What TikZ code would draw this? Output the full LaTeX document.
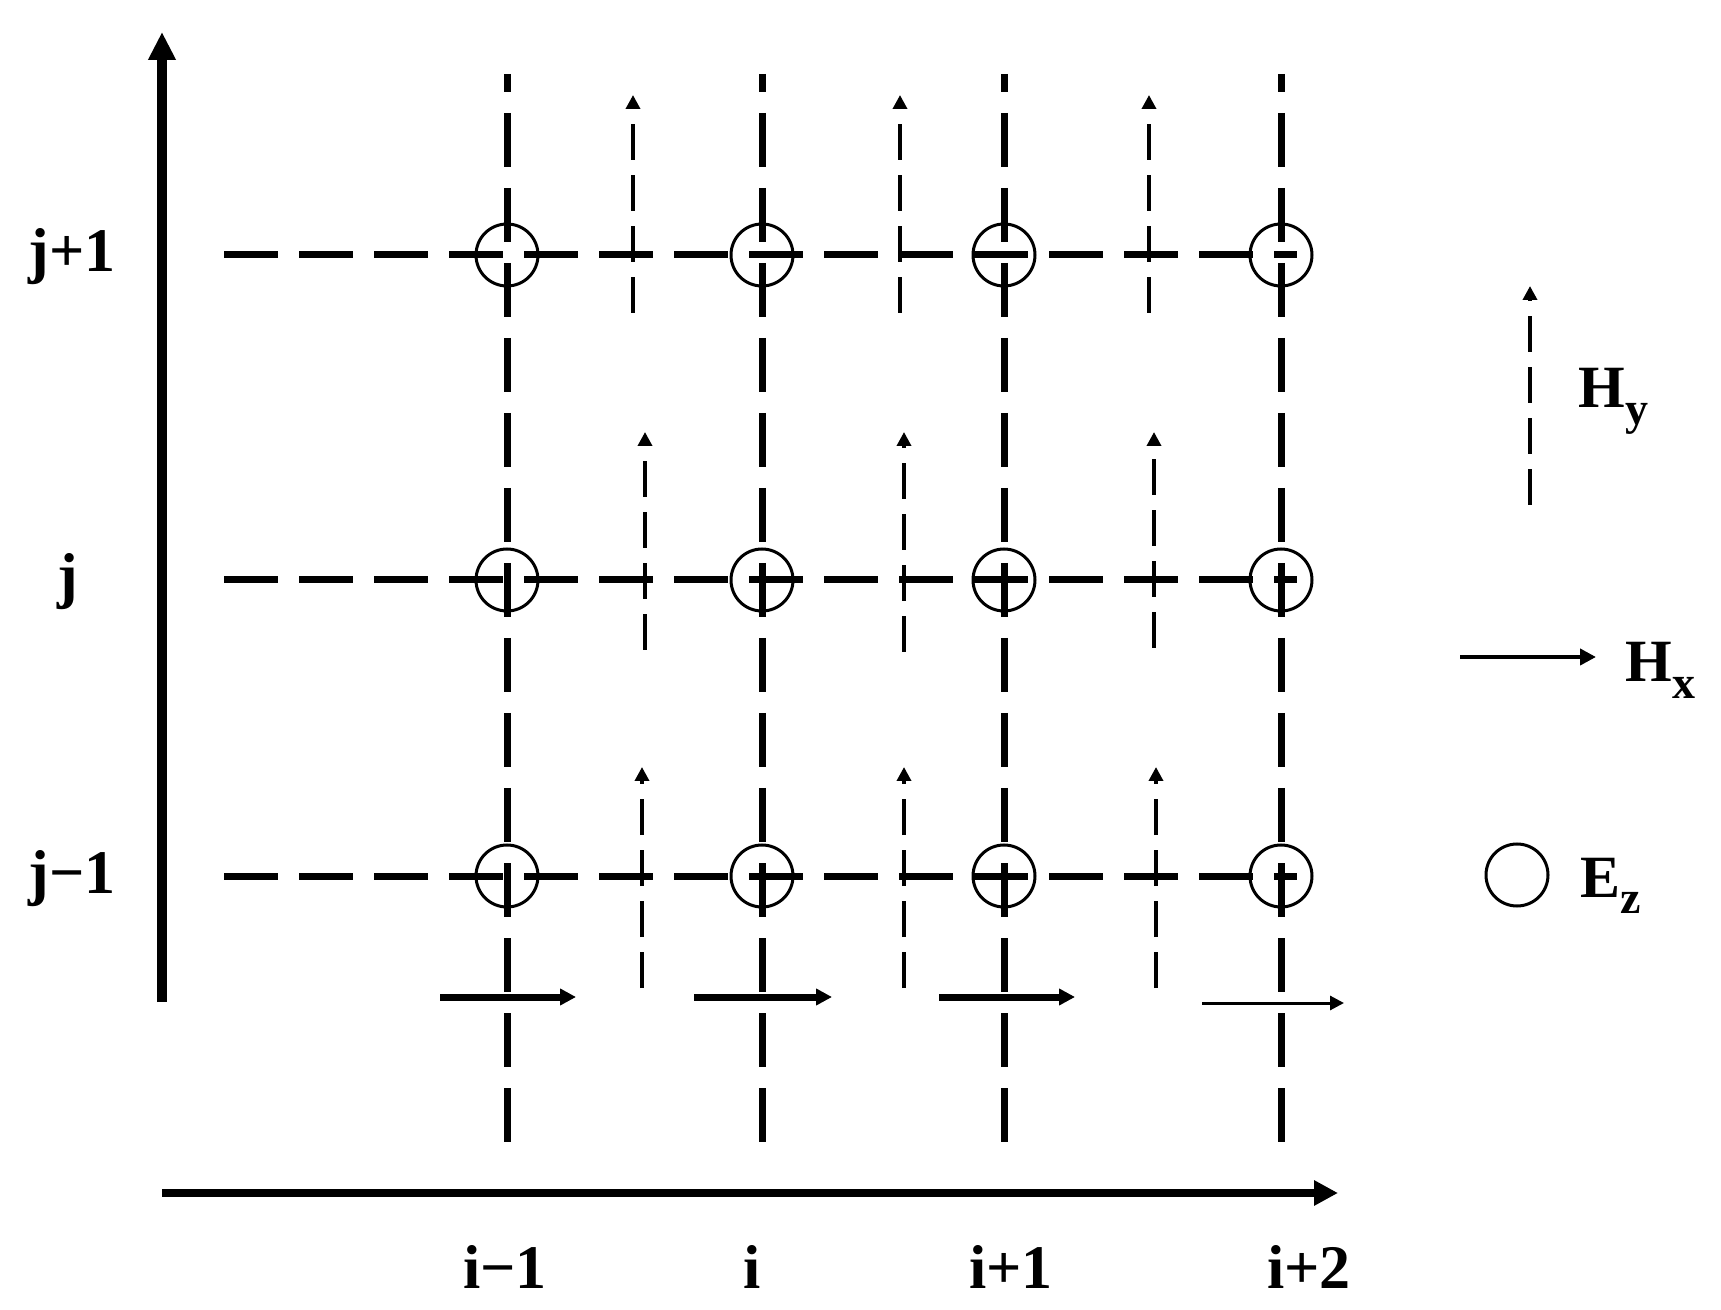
\documentclass[tikz,border=0pt]{standalone}
\usepackage{fontspec}
\setmainfont{Liberation Serif}
\usetikzlibrary{arrows.meta}
\newcommand{\mysub}[1]{\raisebox{-0.28em}{\fontsize{23}{23}\selectfont #1}}
\begin{document}
\begin{tikzpicture}[x=0.5pt,y=-0.5pt,
  gridline/.style={line width=3.5pt,dash pattern=on 27pt off 10.5pt},
  axisline/.style={line width=5pt,-{Triangle[width=13pt,length=14pt]}},
  hyarrow/.style={line width=2pt,dash pattern=on 18pt off 7.5pt,-{Triangle[width=7pt,length=7pt]}},
  hxarrow/.style={line width=3.5pt,-{Triangle[width=8pt,length=8pt]}},
  hxthin/.style={line width=1.5pt,-{Triangle[width=7pt,length=7pt]}},
  ez/.style={circle,draw,line width=1.5pt,minimum size=31pt,inner sep=0pt},
  lab/.style={font=\fontsize{31}{36}\selectfont\bfseries,inner sep=0pt,anchor=base},
  leglab/.style={font=\fontsize{30}{36}\selectfont\bfseries,inner sep=0pt,anchor=base west}]
\useasboundingbox (0,0) rectangle (1721,1310);

% axes
\coordinate (yaxb) at (162,1002);
\coordinate (yaxt) at (162,32);
\coordinate (xaxl) at (162,1193);
\coordinate (xaxr) at (1338,1193);
\draw[axisline] (yaxb) -- (yaxt);
\draw[line width=4pt,-{Triangle[width=12pt,length=12pt]}] (xaxl) -- (xaxr);

% vertical grid lines
\foreach \x/\n in {507/a,762/b,1004/c,1281/d}{
  \coordinate (vt\n) at (\x,74);
  \coordinate (vb\n) at (\x,1146);
  \draw[gridline,dash phase=18pt] (vt\n) -- (vb\n);
}
% horizontal grid lines
\foreach \y/\n in {255/a,580/b,876/c}{
  \coordinate (hl\n) at (224,\y);
  \coordinate (hr\n) at (1297,\y);
  \draw[gridline] (hl\n) -- (hr\n);
}

% Ez circles
\foreach \x/\n in {507/a,762/b,1004/c,1281/d}{
  \foreach \y/\m in {255/a,580/b,876/c}{
    \node[ez] (E\n\m) at (\x,\y) {};
  }
}

% Hy arrows
\foreach \x/\yb/\yt/\n in {633/313/95/a1,900/313/95/a2,1149/313/95/a3,
                          645/650/432/b1,904/652/432/b2,1154/648/432/b3,
                          642/988/767/c1,904/988/767/c2,1156/988/767/c3}{
  \coordinate (hyb\n) at (\x,\yb);
  \coordinate (hyt\n) at (\x,\yt);
  \draw[hyarrow] (hyb\n) -- (hyt\n);
}

% Hx arrows
\foreach \xa/\xb/\n in {440/576/1,694/832/2,939/1075/3}{
  \coordinate (hxl\n) at (\xa,997);
  \coordinate (hxr\n) at (\xb,997);
  \draw[hxarrow] (hxl\n) -- (hxr\n);
}
\coordinate (hxl4) at (1202,1003);
\coordinate (hxr4) at (1344,1003);
\draw[hxthin] (hxl4) -- (hxr4);

% row labels
\node[lab] (lj1) at (72,272) {j+1};
\node[lab] (lj) at (68,597) {j};
\node[lab] (lj0) at (72,893) {j−1};
% column labels
\node[lab] (li0) at (505,1288) {i−1};
\node[lab] (li) at (752,1288) {i};
\node[lab] (li1) at (1011,1288) {i+1};
\node[lab] (li2) at (1309,1288) {i+2};

% legend
\coordinate (lhyb) at (1530,505);
\coordinate (lhyt) at (1530,286);
\draw[hyarrow] (lhyb) -- (lhyt);
\node[leglab] (lhy) at (1578,408) {H\mysub{y}};
\coordinate (lhxl) at (1460,657);
\coordinate (lhxr) at (1596,657);
\draw[line width=2pt,-{Triangle[width=8pt,length=8pt]}] (lhxl) -- (lhxr);
\node[leglab] (lhx) at (1625,682) {H\mysub{x}};
\node[ez] (lez) at (1517,875) {};
\node[leglab] (lezl) at (1580,897) {E\mysub{z}};
\end{tikzpicture}
\end{document}
